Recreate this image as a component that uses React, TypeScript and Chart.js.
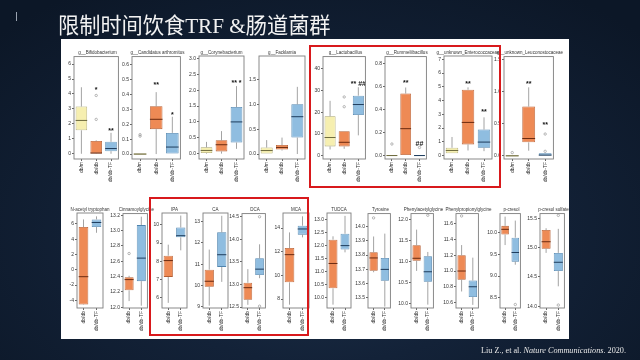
import React, { useEffect, useRef } from "react";
import { Chart, registerables } from "chart.js";
Chart.register(...registerables);

// ---------------- DATA ----------------
const GROUPS_TOP = ["db/m", "db/db", "db/db-TF"];
const GROUPS_BOTTOM = ["db/db", "db/db-TF"];

const TITLES_TOP = [
  "g__Bifidobacterium",
  "g__Candidatus arthromitus",
  "g__Corynebacterium",
  "g__Facklamia",
  "g__Lactobacillus",
  "g__Rummeliibacillus",
  "g__unknown_Enterococcaceae",
  "g__unknown_Leuconostocaceae",
];
const TITLES_BOTTOM = [
  "N-acetyl tryptophan",
  "Cinnamoylglycine",
  "IPA",
  "CA",
  "DCA",
  "MCA",
  "TUDCA",
  "Tyrosine",
  "Phenylacetylglycine",
  "Phenylpropionylglycine",
  "p-cresol",
  "p-cresol sulfate",
];

// five-number summaries per group: [min, q1, median, q3, max]
const bifidobacterium = [[0, 1.57, 2.23, 3.16, 4.45], [0, 0.02, 0.05, 0.85, 0.9], [0, 0.17, 0.35, 0.8, 1.4]];
const candidatusArthromitus = [[0, 0, 0, 0, 0], [0, 0.167, 0.233, 0.32, 0.415], [0, 0, 0.047, 0.142, 0.25]];
const corynebacterium = [[0, 0.02, 0.1, 0.2, 0.37], [0, 0.07, 0.28, 0.42, 0.71], [0.15, 0.35, 1.0, 1.47, 2.13]];
const facklamia = [[0, 0, 0.07, 0.13, 0.28], [0.07, 0.09, 0.13, 0.18, 0.33], [0, 0.33, 0.75, 1.0, 1.35]];
const lactobacillus = [[2.8, 4.2, 8.3, 18.1, 25.2], [3.1, 4.2, 6.1, 11.2, 11.2], [9.3, 18.7, 23.5, 27.6, 31.5]];
const rummeliibacillus = [[0, 0, 0, 0, 0], [0, 0, 0.233, 0.538, 0.59], [0, 0, 0, 0, 0]];
const enterococcaceae = [[0.17, 0.17, 0.37, 0.57, 1.35], [0.37, 0.81, 2.41, 4.79, 4.96], [0.32, 0.57, 0.98, 1.89, 2.78]];
const leuconostocaceae = [[0, 0, 0, 0, 0], [0.08, 0.21, 0.27, 0.77, 1.07], [0, 0, 0.01, 0.04, 0.04]];

const nAcetylTryptophan = [[-4.6, -4.55, -0.9, 5.6, 6.6], [4.85, 5.6, 6.2, 6.6, 7.0]];
const cinnamoylglycine = [[12.08, 12.22, 12.36, 12.39, 12.41], [12.02, 12.34, 12.64, 13.07, 13.18]];
const ipa = [[5.73, 7.15, 8.04, 8.31, 8.91], [8.6, 9.31, 9.4, 9.85, 10.5]];
const ca = [[9.06, 9.94, 10.2, 10.74, 11.68], [10.17, 10.87, 11.44, 12.49, 13.26]];
const dca = [[12.55, 12.66, 12.93, 13.04, 13.34], [13.14, 13.21, 13.34, 13.58, 13.89]];
const mca = [[7.52, 9.41, 11.75, 12.31, 13.63], [13.21, 13.44, 13.92, 14.2, 14.99]];
const tudca = [[9.72, 10.35, 11.31, 12.23, 12.36], [11.74, 11.85, 12.0, 12.46, 13.15]];
const tyrosine = [[13.68, 13.69, 13.78, 13.82, 13.93], [13.44, 13.62, 13.7, 13.78, 13.95]];
const phenylacetylglycine = [[10.78, 11.02, 11.08, 11.39, 11.76], [9.98, 10.52, 10.76, 11.13, 11.23]];
const phenylpropionylglycine = [[10.74, 10.89, 11.0, 11.2, 11.33], [10.57, 10.67, 10.8, 10.88, 11.17]];
const pCresol = [[9.71, 9.95, 10.07, 10.15, 10.36], [9.26, 9.33, 9.54, 9.88, 10.27]];
const pCresolSulfate = [[14.91, 14.98, 15.1, 15.3, 15.33], [14.34, 14.6, 14.75, 14.91, 15.32]];

const STATS_TOP = [bifidobacterium, candidatusArthromitus, corynebacterium, facklamia, lactobacillus, rummeliibacillus, enterococcaceae, leuconostocaceae];
const STATS_BOTTOM = [nAcetylTryptophan, cinnamoylglycine, ipa, ca, dca, mca, tudca, tyrosine, phenylacetylglycine, phenylpropionylglycine, pCresol, pCresolSulfate];

// outlying points per group
const OUTLIERS_TOP = [
  [[], [3.9, 2.3], []],
  [[0.13, 0.12], [], []],
  [[], [], []],
  [[], [], []],
  [[], [27, 22.5], []],
  [[0.1], [], [0.07]],
  [[], [], []],
  [[0.05], [], [0.34, 0.07]],
];
const OUTLIERS_BOTTOM = [
  [[], []],
  [[12.7], []],
  [[], []],
  [[], []],
  [[], [14.5, 12.52]],
  [[], []],
  [[], []],
  [[14.06], []],
  [[], [12.1]],
  [[11.7], []],
  [[], [8.35]],
  [[], [15.55, 14.02]],
];

// significance marks and the value they sit at
const STARS_TOP = [
  ["", "*", "**"],
  ["", "**", "*"],
  ["", "", "** *"],
  ["", "", ""],
  ["", "", "** ##"],
  ["", "**", "##"],
  ["", "**", "**"],
  ["", "**", "**"],
];
const STAR_Y_TOP = [
  [0, 4.35, 1.6],
  [0, 0.47, 0.27],
  [0, 0, 2.27],
  [0, 0, 0],
  [0, 0, 33.5],
  [0, 0.645, 0.115],
  [0, 5.28, 3.24],
  [0, 1.14, 0.5],
];

// y axis ranges and tick labels
const RANGE_TOP = [[-0.35, 6.5], [-0.033, 0.653], [-0.17, 3.08], [-0.1, 1.97], [-1.6, 45.6], [-0.03, 0.858], [-0.25, 7.24], [-0.05, 1.55]];
const TICKS_TOP = [
  ["0", "1", "2", "3", "4", "5", "6"],
  ["0.0", "0.1", "0.2", "0.3", "0.4", "0.5", "0.6"],
  ["0.0", "0.5", "1.0", "1.5", "2.0", "2.5", "3.0"],
  ["0.0", "0.5", "1.0", "1.5"],
  ["0", "10", "20", "30", "40"],
  ["0.0", "0.2", "0.4", "0.6", "0.8"],
  ["0", "1", "2", "3", "4", "5", "6", "7"],
  ["0.0", "0.5", "1.0", "1.5"],
];
const RANGE_BOTTOM = [[-5.0, 7.44], [11.99, 13.22], [5.45, 10.64], [8.95, 13.39], [12.48, 14.57], [7.24, 15.27], [9.59, 13.26], [13.43, 14.09], [9.9, 12.14], [10.53, 11.73], [8.27, 10.43], [13.97, 15.58]];
const TICKS_BOTTOM = [
  ["-4", "-2", "0", "2", "4", "6"],
  ["12.0", "12.2", "12.4", "12.6", "12.8", "13.0", "13.2"],
  ["6", "7", "8", "9", "10"],
  ["9", "10", "11", "12", "13"],
  ["12.5", "13.0", "13.5", "14.0", "14.5"],
  ["8", "10", "12", "14"],
  ["10.0", "10.5", "11.0", "11.5", "12.0", "12.5", "13.0"],
  ["13.5", "13.6", "13.7", "13.8", "13.9", "14.0"],
  ["10.0", "10.5", "11.0", "11.5", "12.0"],
  ["10.6", "10.8", "11.0", "11.2", "11.4", "11.6"],
  ["8.5", "9.0", "9.5", "10.0"],
  ["14.0", "14.5", "15.0", "15.5"],
];

// ---------------- LAYOUT / STYLE ----------------
const FRAMES_TOP = [[74, 121], [132, 183], [199, 244], [259, 305], [323, 368], [385, 429], [444, 492], [504, 556]];
const FRAMES_BOTTOM = [[77, 103], [123, 150], [162, 187], [203, 228], [242, 268], [283, 309], [327, 351], [368, 393], [411, 436], [456, 481], [500, 523], [540, 567]];
const ROW_TOP_Y = [56, 159];
const ROW_BOTTOM_Y = [213, 308];

const YELLOW = { fill: "#f6efb0", border: "#a9a36a", median: "#6d6a3e" };
const ORANGE = { fill: "#ee8a55", border: "#b45c30", median: "#6a2a10" };
const BLUE = { fill: "#8fbde0", border: "#4f84ae", median: "#1e3c5c" };
const PAL_TOP = [YELLOW, ORANGE, BLUE];
const PAL_BOTTOM = [ORANGE, BLUE];

const FONT = "'Liberation Sans', Arial, sans-serif";
const PAD_L = 16;
const PAD_T = 4;
const PAD_R = 2;
const PAD_B = 28;

type Pal = { fill: string; border: string; median: string };
type BoxProps = {
  title: string;
  groups: string[];
  stats: number[][];
  outliers: number[][];
  stars: string[];
  starY: number[];
  range: number[];
  ticks: string[];
  frame: number[];
  rowY: number[];
  pal: Pal[];
  barPct: number;
};

function BoxChart(p: BoxProps) {
  const ref = useRef<HTMLCanvasElement | null>(null);
  const [fl, fr] = p.frame;
  const [ft, fb] = p.rowY;
  const W = fr - fl + PAD_L + PAD_R;
  const H = fb - ft + PAD_T + PAD_B;

  useEffect(() => {
    if (!ref.current) return;
    const tickVals = p.ticks.map(Number);
    const boxPlugin = {
      id: "boxExtras",
      afterDatasetsDraw(chart: any) {
        const ctx = chart.ctx;
        const ys = chart.scales.y;
        const meta = chart.getDatasetMeta(0);
        ctx.save();
        p.stats.forEach((s, i) => {
          const el = meta.data[i];
          const x = el.x;
          const hw = el.width / 2;
          // whiskers
          ctx.strokeStyle = "#8c8c8c";
          ctx.lineWidth = 0.8;
          ctx.beginPath();
          ctx.moveTo(x, ys.getPixelForValue(s[3]));
          ctx.lineTo(x, ys.getPixelForValue(s[4]));
          ctx.moveTo(x, ys.getPixelForValue(s[1]));
          ctx.lineTo(x, ys.getPixelForValue(s[0]));
          ctx.stroke();
          // flat box outline (zero height)
          if (s[3] === s[1]) {
            ctx.strokeStyle = p.pal[i].border;
            ctx.beginPath();
            ctx.moveTo(x - hw, ys.getPixelForValue(s[1]));
            ctx.lineTo(x + hw, ys.getPixelForValue(s[1]));
            ctx.stroke();
          }
          // median
          ctx.strokeStyle = p.pal[i].median;
          ctx.lineWidth = 1;
          const my = ys.getPixelForValue(s[2]);
          ctx.beginPath();
          ctx.moveTo(x - hw, my);
          ctx.lineTo(x + hw, my);
          ctx.stroke();
          // stars
          if (p.stars[i]) {
            ctx.fillStyle = "#111";
            ctx.font = "bold 7px " + FONT;
            ctx.textAlign = "center";
            ctx.textBaseline = "middle";
            ctx.fillText(p.stars[i], x, ys.getPixelForValue(p.starY[i]) + 1.5);
          }
        });
        // frame
        const a = chart.chartArea;
        ctx.strokeStyle = "#7d7d7d";
        ctx.lineWidth = 0.9;
        ctx.strokeRect(a.left, a.top, a.right - a.left, a.bottom - a.top);
        ctx.restore();
      },
    };

    const chart = new Chart(ref.current, {
      type: "bar",
      data: {
        labels: p.groups,
        datasets: [
          {
            type: "bar",
            data: p.stats.map((s) => [s[1], s[3]]) as any,
            backgroundColor: p.pal.map((c) => c.fill),
            borderColor: p.pal.map((c) => c.border),
            borderWidth: 0.8,
            borderSkipped: false,
            barPercentage: p.barPct,
            categoryPercentage: 1,
          } as any,
          {
            type: "scatter",
            data: p.outliers.flatMap((arr, i) => arr.map((v) => ({ x: p.groups[i], y: v }))) as any,
            pointRadius: 1.2,
            pointBorderWidth: 0.6,
            pointBorderColor: "#8a8a8a",
            pointBackgroundColor: "rgba(0,0,0,0)",
          } as any,
        ],
      },
      options: {
        responsive: false,
        animation: false,
        devicePixelRatio: 1,
        layout: { padding: { top: PAD_T, right: PAD_R, left: 0, bottom: 0 } },
        plugins: { legend: { display: false }, tooltip: { enabled: false }, title: { display: false } },
        scales: {
          x: {
            type: "category",
            offset: true,
            border: { display: false },
            grid: { display: true, drawOnChartArea: false, drawTicks: true, tickLength: 2, color: "#666", offset: false },
            ticks: { minRotation: 90, maxRotation: 90, autoSkip: false, padding: 1, color: "#333", font: { size: 5, family: FONT } },
            afterFit: (s: any) => {
              s.height = PAD_B;
            },
          },
          y: {
            type: "linear",
            min: p.range[0],
            max: p.range[1],
            border: { display: false },
            grid: { display: true, drawOnChartArea: false, drawTicks: true, tickLength: 2, color: "#666" },
            ticks: {
              padding: 1,
              color: "#333",
              font: { size: 5, family: FONT },
              callback: (_v: any, i: number) => p.ticks[i],
            },
            afterBuildTicks: (s: any) => {
              s.ticks = tickVals.map((v) => ({ value: v }));
            },
            afterFit: (s: any) => {
              s.width = PAD_L;
            },
          },
        },
      } as any,
      plugins: [boxPlugin],
    });
    return () => chart.destroy();
  }, []);

  return (
    <>
      <div
        style={{
          position: "absolute",
          left: fl - 30,
          width: fr - fl + 60,
          top: ft - 6,
          textAlign: "center",
          fontFamily: FONT,
          fontSize: 4.5,
          lineHeight: "5px",
          color: "#333",
          whiteSpace: "nowrap",
        }}
      >
        {p.title}
      </div>
      <canvas
        ref={ref}
        width={W}
        height={H}
        style={{ position: "absolute", left: fl - PAD_L, top: ft - PAD_T, width: W, height: H }}
      />
    </>
  );
}

export default function App() {
  return (
    <div
      style={{
        position: "fixed",
        left: 0,
        top: 0,
        width: 640,
        height: 360,
        overflow: "hidden",
        background: "radial-gradient(ellipse 70% 80% at 50% 65%, #1d3049 0%, #132238 45%, #0c1727 100%)",
      }}
    >
      <div style={{ position: "absolute", left: 16, top: 12, width: 1, height: 9, background: "#9aa3b0" }} />
      <div
        style={{
          position: "absolute",
          left: 58,
          top: 12,
          fontSize: 21.2,
          lineHeight: "24px",
          color: "#f2f2f2",
          fontFamily: "'Noto Sans CJK SC', sans-serif",
          whiteSpace: "nowrap",
        }}
      >
        限制时间饮食<span style={{ fontFamily: "'Liberation Serif', serif" }}>TRF &amp;</span>肠道菌群
      </div>
      <div style={{ position: "absolute", left: 61, top: 39, width: 508, height: 300, background: "#ffffff" }} />
      {TITLES_TOP.map((t, i) => (
        <BoxChart
          key={"t" + i}
          title={t}
          groups={GROUPS_TOP}
          stats={STATS_TOP[i]}
          outliers={OUTLIERS_TOP[i]}
          stars={STARS_TOP[i]}
          starY={STAR_Y_TOP[i]}
          range={RANGE_TOP[i]}
          ticks={TICKS_TOP[i]}
          frame={FRAMES_TOP[i]}
          rowY={ROW_TOP_Y}
          pal={PAL_TOP}
          barPct={0.78}
        />
      ))}
      {TITLES_BOTTOM.map((t, i) => (
        <BoxChart
          key={"b" + i}
          title={t}
          groups={GROUPS_BOTTOM}
          stats={STATS_BOTTOM[i]}
          outliers={OUTLIERS_BOTTOM[i]}
          stars={["", ""]}
          starY={[0, 0]}
          range={RANGE_BOTTOM[i]}
          ticks={TICKS_BOTTOM[i]}
          frame={FRAMES_BOTTOM[i]}
          rowY={ROW_BOTTOM_Y}
          pal={PAL_BOTTOM}
          barPct={0.74}
        />
      ))}
      <div style={{ position: "absolute", left: 309, top: 45, width: 188, height: 139, border: "2px solid #d8191c" }} />
      <div style={{ position: "absolute", left: 149, top: 197, width: 156, height: 135, border: "2px solid #d8191c" }} />
      <div
        style={{
          position: "absolute",
          right: 14,
          top: 346,
          fontSize: 8.2,
          lineHeight: "10px",
          color: "#e8e8e8",
          fontFamily: "'Liberation Serif', serif",
          whiteSpace: "nowrap",
        }}
      >
        Liu Z., et al. <i>Nature Communications</i>. 2020.
      </div>
    </div>
  );
}
